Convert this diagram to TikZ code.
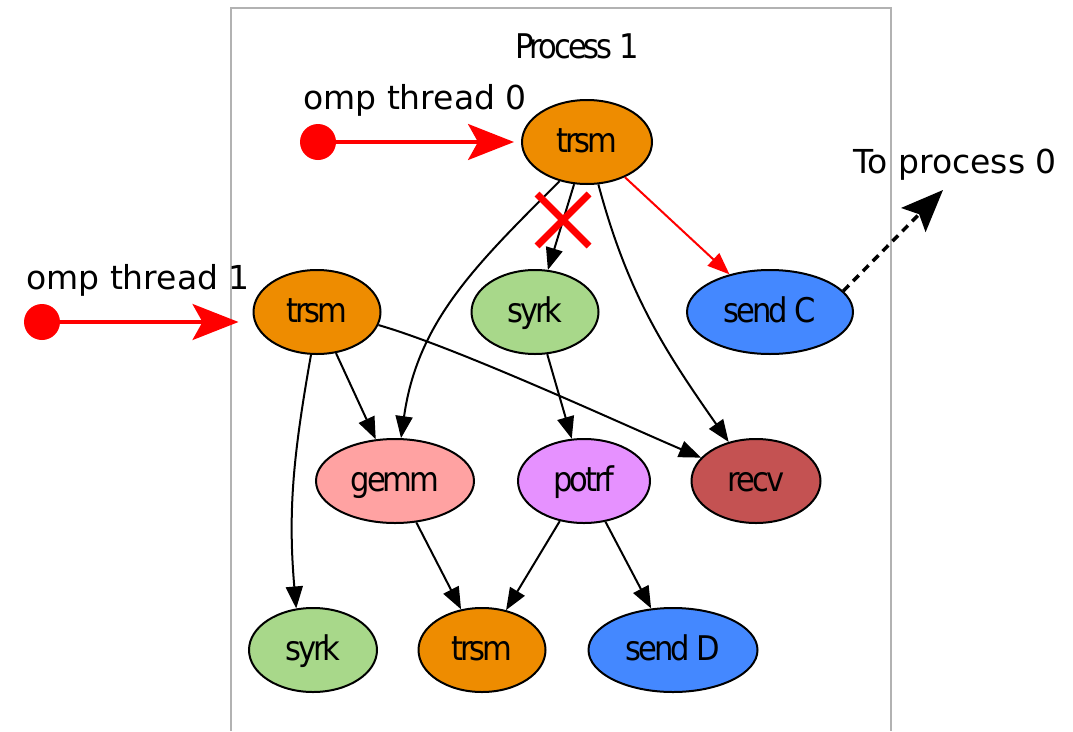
\documentclass[tikz,border=0pt]{standalone}
\usepackage{fontspec}
\setmainfont{DejaVu Sans}
\newfontfamily\condfont[FakeStretch=0.9,LetterSpace=-9]{DejaVu Sans}
\usetikzlibrary{arrows.meta,shapes.geometric,calc}
\definecolor{trsmc}{RGB}{238,140,0}
\definecolor{syrkc}{RGB}{168,216,138}
\definecolor{sendc}{RGB}{68,136,255}
\definecolor{gemmc}{RGB}{255,162,162}
\definecolor{potrfc}{RGB}{230,145,255}
\definecolor{recvc}{RGB}{196,82,82}
\tikzset{
  task/.style={ellipse, draw, line width=2pt, minimum height=84pt, inner sep=0pt,
    text height=26pt, text depth=6pt,
    font=\condfont\fontsize{34}{34}\selectfont},
  edge/.style={line width=2pt, -{Triangle[length=22pt,width=17pt]}},
  redge/.style={line width=2pt, red, -{Triangle[length=22pt,width=17pt]}},
  dotn/.style={circle, fill=red, minimum size=36pt, inner sep=0pt},
  thr/.style={line width=3.2pt, red, -{Stealth[length=46pt,width=36pt,inset=10pt]}},
  lbl/.style={font=\fontsize{33}{33}\selectfont, inner sep=0pt},
}
\begin{document}
\begin{tikzpicture}[x=1pt,y=1pt]
\useasboundingbox (0,0) rectangle (1073,-731);
\draw[gray!60, line width=1.3pt] (231,-731) -- (231,-8) -- (891,-8) -- (891,-731);
\node[font=\condfont\fontsize{34}{34}\selectfont, inner sep=0pt, text height=26pt, text depth=6pt] (proc) at (577,-48) {Process 1};

\node[task, fill=trsmc, minimum width=130pt] (t0) at (587,-142) {trsm};
\node[task, fill=trsmc, minimum width=127pt] (tl) at (317,-312) {trsm};
\node[task, fill=syrkc, minimum width=127pt] (s1) at (535,-312) {syrk};
\node[task, fill=sendc, minimum width=166pt] (sc) at (770,-312) {send C};
\node[task, fill=gemmc, minimum width=158pt] (gm) at (395,-481) {gemm};
\node[task, fill=potrfc, minimum width=132pt] (po) at (584,-481) {potrf};
\node[task, fill=recvc, minimum width=129pt] (rv) at (756,-481) {recv};
\node[task, fill=syrkc, minimum width=128pt] (s2) at (313,-650) {syrk};
\node[task, fill=trsmc, minimum width=127pt] (t2) at (482,-650) {trsm};
\node[task, fill=sendc, minimum width=169pt] (sd) at (673,-650) {send D};

\draw[edge] (t0) -- (s1);
\draw[edge] (t0.235) to[out=225, in=82] (gm);
\draw[edge] (t0) to[out=-75, in=125] (rv);
\draw[redge] (t0) -- (sc);
\draw[edge] (tl) -- (gm);
\draw[edge] (tl.-12) to[out=-16, in=157, looseness=0.6] (rv);
\draw[edge] (tl.-98) to[out=-100, in=95] (s2.112);
\draw[edge] (s1) -- (po);
\draw[edge] (gm) -- (t2);
\draw[edge] (po) -- (t2);
\draw[edge] (po) -- (sd);

% red cross
\coordinate (xc) at (563,-220);
\draw[red, line width=7pt] ($(xc)+(-26,26)$) -- ($(xc)+(26,-26)$);
\draw[red, line width=7pt] ($(xc)+(-26,-26)$) -- ($(xc)+(26,26)$);

% threads
\node[dotn] (d0) at (318,-142) {};
\node[dotn] (d1) at (42,-322) {};
\draw[thr, shorten >=7pt] (d0) -- (d0 -| t0.west);
\draw[thr, shorten >=14pt] (d1) -- (d1 -| tl.west);
\node[lbl] (l0) at (415,-100) {omp thread 0};
\node[lbl] (l1) at (138,-280) {omp thread 1};

% to process 0
\node[lbl] (lp) at (955,-165) {To process 0};
\coordinate (tp) at (943,-190);
\draw[line width=3.5pt, dash pattern=on 8pt off 6pt, -{Stealth[length=42pt,width=34pt,inset=8pt]}] (sc.16) -- (tp);
\end{tikzpicture}
\end{document}
